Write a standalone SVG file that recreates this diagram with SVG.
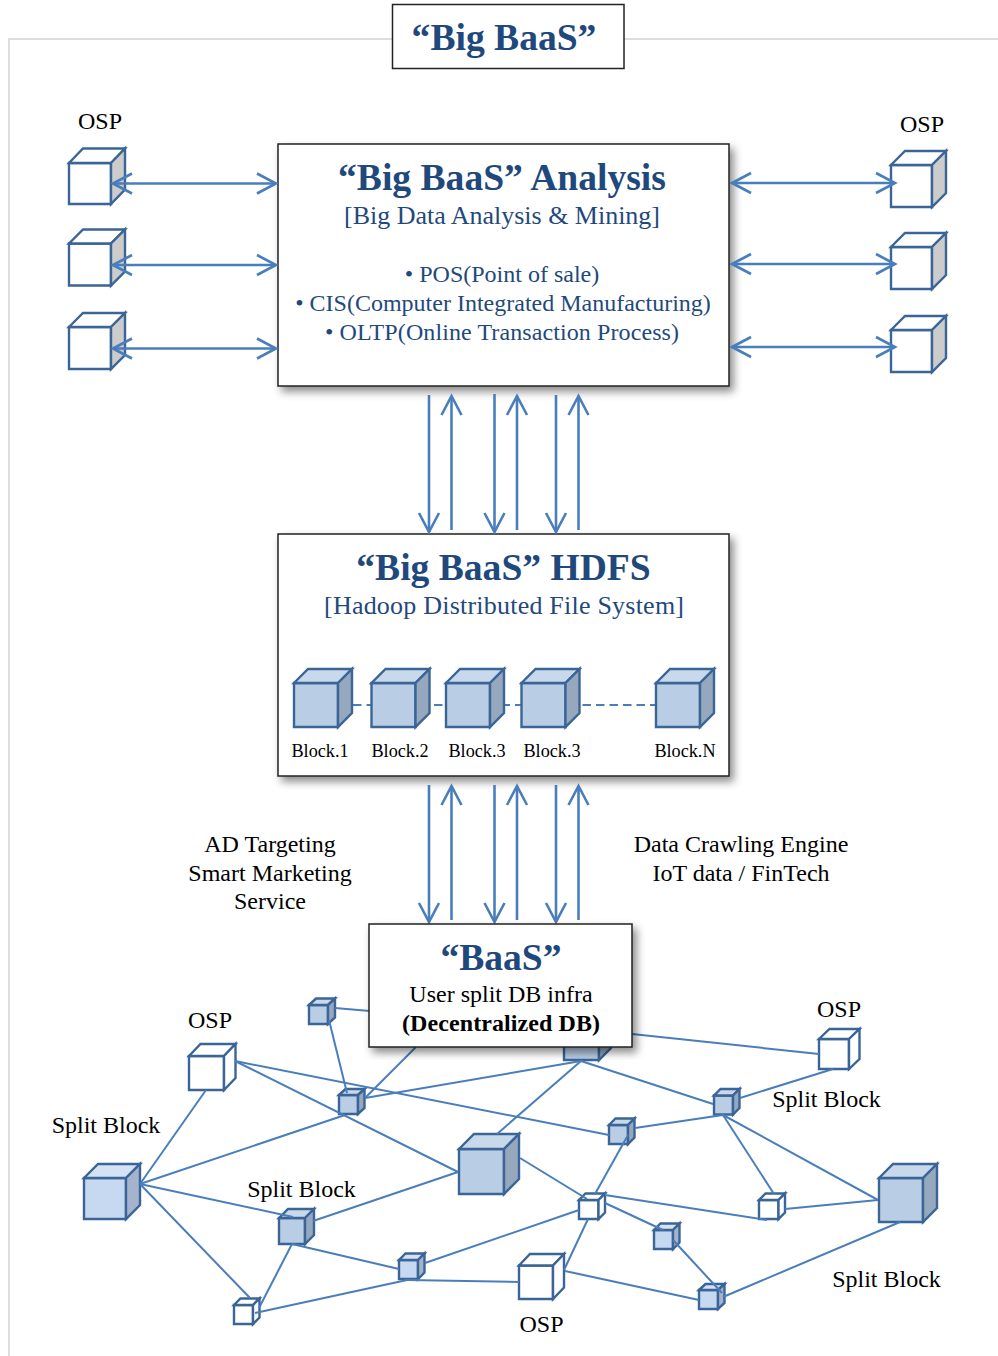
<svg xmlns="http://www.w3.org/2000/svg" width="998" height="1356" viewBox="0 0 998 1356">
<style>
text{font-family:"Liberation Serif","Times New Roman",serif;text-anchor:middle;fill:#000}
.t{font-weight:bold;font-size:37.600px;fill:#1F497D}
.s{font-size:26px;fill:#1F497D}
.b{font-size:24px;fill:#1F497D}
.l{font-size:24px}
.k{font-size:18.200px}
.box{fill:#fff;stroke:#222;stroke-width:1.5}
.cube path{stroke:#3B6596;stroke-width:2.400;stroke-linejoin:miter}
.w .a{fill:#fff}.w .c{fill:#fff}.w .d{fill:#fff}
.g .a{fill:#fff}.g .c{fill:#fff}.g .d{fill:#CCCCCC}
.m .a{fill:#B9CDE5}.m .c{fill:#C8D9EC}.m .d{fill:#95A8BE}
.n .a{fill:#C6D9F1}.n .c{fill:#D3E2F5}.n .d{fill:#A5B4CC}
.net line{stroke:#4A7EBB;stroke-width:2}
.arr line{stroke:#4A7EBB;stroke-width:2.600;fill:none}
.arr .e{marker-end:url(#h)}
.arr .x{marker-start:url(#hs);marker-end:url(#h)}
</style>
<defs>
<marker id="h" markerUnits="userSpaceOnUse" markerWidth="24" markerHeight="26" refX="20" refY="12" orient="auto"><path d="M1 2L20 12L1 22" fill="none" stroke="#4A7EBB" stroke-width="2.600"/></marker>
<marker id="hs" markerUnits="userSpaceOnUse" markerWidth="24" markerHeight="26" refX="2" refY="12" orient="auto"><path d="M21 2L2 12L21 22" fill="none" stroke="#4A7EBB" stroke-width="2.600"/></marker>
<filter id="sh" x="-5%" y="-5%" width="112%" height="115%"><feDropShadow dx="4" dy="5" stdDeviation="4" flood-color="#000" flood-opacity="0.45"/></filter>
</defs>
<g id="frame"><path d="M998 39H9V1356" fill="none" stroke="#D2D2D2" stroke-width="1.5"/></g>
<g id="title-box"><rect class="box" x="392.500" y="4.500" width="231.500" height="64"/><text class="t" x="504" y="50">“Big BaaS”</text></g>

<g id="osp-l1" class="cube g"><path class="a" d="M69 163h42v41h-42z"/><path class="c" d="M69 163l14-14.500h42l-14 14.500z"/><path class="d" d="M111 163l14-14.500v41l-14 14.500z"/></g>
<g id="osp-l2" class="cube g"><path class="a" d="M69 243.500h42v42h-42z"/><path class="c" d="M69 243.500l14-14h42l-14 14z"/><path class="d" d="M111 243.500l14-14v42l-14 14z"/></g>
<g id="osp-l3" class="cube g"><path class="a" d="M69 327h42v42h-42z"/><path class="c" d="M69 327l14-14h42l-14 14z"/><path class="d" d="M111 327l14-14v42l-14 14z"/></g>
<g id="osp-r1" class="cube g"><path class="a" d="M891 165h41v42h-41z"/><path class="c" d="M891 165l14-14h41l-14 14z"/><path class="d" d="M932 165l14-14v42l-14 14z"/></g>
<g id="osp-r2" class="cube g"><path class="a" d="M891 247h41v42h-41z"/><path class="c" d="M891 247l14-14h41l-14 14z"/><path class="d" d="M932 247l14-14v42l-14 14z"/></g>
<g id="osp-r3" class="cube g"><path class="a" d="M891 330h41v42h-41z"/><path class="c" d="M891 330l14-14h41l-14 14z"/><path class="d" d="M932 330l14-14v42l-14 14z"/></g>

<g id="analysis"><rect class="box" filter="url(#sh)" x="278" y="144" width="451" height="242"/>
<text class="t" x="502" y="190">“Big BaaS” Analysis</text>
<text class="s" x="502" y="224" textLength="316">[Big Data Analysis &amp; Mining]</text>
<text class="b" x="502" y="282">• POS(Point of sale)</text>
<text class="b" x="503" y="311">• CIS(Computer Integrated Manufacturing)</text>
<text class="b" x="502" y="340" textLength="354">• OLTP(Online Transaction Process)</text></g>

<g id="hdfs"><rect class="box" filter="url(#sh)" x="278" y="534" width="451" height="242"/>
<text class="t" x="503.500" y="580">“Big BaaS” HDFS</text>
<text class="s" x="504" y="614" textLength="360">[Hadoop Distributed File System]</text>
<path d="M353 705H656" stroke="#4A7EBB" stroke-width="2" stroke-dasharray="8.500 5" fill="none"/>
<g id="block1" class="cube m"><path class="a" d="M294 683h44v44h-44z"/><path class="c" d="M294 683l14-14h44l-14 14z"/><path class="d" d="M338 683l14-14v44l-14 14z"/><text class="k" x="320" y="757">Block.1</text></g>
<g id="block2" class="cube m"><path class="a" d="M371.500 683h44v44h-44z"/><path class="c" d="M371.500 683l14-14h44l-14 14z"/><path class="d" d="M415.500 683l14-14v44l-14 14z"/><text class="k" x="400" y="757">Block.2</text></g>
<g id="block3" class="cube m"><path class="a" d="M446 683h44v44h-44z"/><path class="c" d="M446 683l14-14h44l-14 14z"/><path class="d" d="M490 683l14-14v44l-14 14z"/><text class="k" x="477" y="757">Block.3</text></g>
<g id="block4" class="cube m"><path class="a" d="M521.500 683h44v44h-44z"/><path class="c" d="M521.500 683l14-14h44l-14 14z"/><path class="d" d="M565.500 683l14-14v44l-14 14z"/><text class="k" x="552" y="757">Block.3</text></g>
<g id="blockN" class="cube m"><path class="a" d="M656 683h44v44h-44z"/><path class="c" d="M656 683l14-14h44l-14 14z"/><path class="d" d="M700 683l14-14v44l-14 14z"/><text class="k" x="685" y="757">Block.N</text></g>
</g>

<g id="label-ad"><text class="l" x="270" y="852">AD Targeting</text><text class="l" x="270" y="881">Smart Marketing</text><text class="l" x="270" y="909">Service</text></g>
<g id="label-crawl"><text class="l" x="741" y="852">Data Crawling Engine</text><text class="l" x="741" y="881">IoT data / FinTech</text></g>

<g id="n-top" class="cube m"><path class="a" d="M309 1005h19v19h-19z"/><path class="c" d="M309 1005l7-6.500h19l-7 6.500z"/><path class="d" d="M328 1005l7-6.500v19l-7 6.500z"/></g>
<g id="n-a" class="cube m"><path class="a" d="M339 1095h19v19h-19z"/><path class="c" d="M339 1095l6.500-6h19l-6.500 6z"/><path class="d" d="M358 1095l6.500-6v19l-6.500 6z"/></g>
<g id="n-hidden" class="cube m"><path class="a" d="M564 1025h35v35h-35z"/><path class="c" d="M564 1025l12-12h35l-12 12z"/><path class="d" d="M599 1025l12-12v35l-12 12z"/></g>
<g id="n-osp1" class="cube w"><path class="a" d="M189 1056h35v34h-35z"/><path class="c" d="M189 1056l11.500-12h35l-11.500 12z"/><path class="d" d="M224 1056l11.500-12v34l-11.500 12z"/></g>
<g id="n-big1" class="cube n"><path class="a" d="M84 1178h42v41h-42z"/><path class="c" d="M84 1178l14-14h42l-14 14z"/><path class="d" d="M126 1178l14-14v41l-14 14z"/></g>
<g id="n-mid" class="cube m"><path class="a" d="M459 1149h45v45h-45z"/><path class="c" d="M459 1149l15-15h45l-15 15z"/><path class="d" d="M504 1149l15-15v45l-15 15z"/></g>
<g id="n-split" class="cube m"><path class="a" d="M279 1218h26v26h-26z"/><path class="c" d="M279 1218l9-9h26l-9 9z"/><path class="d" d="M305 1218l9-9v26l-9 9z"/></g>
<g id="n-b" class="cube n"><path class="a" d="M399 1260h19v19h-19z"/><path class="c" d="M399 1260l6.500-6.500h19l-6.500 6.500z"/><path class="d" d="M418 1260l6.500-6.500v19l-6.500 6.500z"/></g>
<g id="n-w1" class="cube w"><path class="a" d="M234 1305h19v19h-19z"/><path class="c" d="M234 1305l6.500-6.500h19l-6.500 6.500z"/><path class="d" d="M253 1305l6.500-6.500v19l-6.500 6.500z"/></g>
<g id="n-osp2" class="cube w"><path class="a" d="M819 1039h30v30h-30z"/><path class="c" d="M819 1039l10.500-10h30l-10.500 10z"/><path class="d" d="M849 1039l10.500-10v30l-10.500 10z"/></g>
<g id="n-c" class="cube m"><path class="a" d="M714 1095.500h19v19h-19z"/><path class="c" d="M714 1095.500l6.500-6.500h19l-6.500 6.500z"/><path class="d" d="M733 1095.500l6.500-6.500v19l-6.500 6.500z"/></g>
<g id="n-d" class="cube m"><path class="a" d="M609 1125h19v19h-19z"/><path class="c" d="M609 1125l6.500-6.500h19l-6.500 6.500z"/><path class="d" d="M628 1125l6.500-6.500v19l-6.500 6.500z"/></g>
<g id="n-w2" class="cube w"><path class="a" d="M579 1200h19.500v19h-19.500z"/><path class="c" d="M579 1200l6.500-6.500h19.500l-6.500 6.500z"/><path class="d" d="M598.500 1200l6.500-6.500v19l-6.500 6.500z"/></g>
<g id="n-w3" class="cube w"><path class="a" d="M759 1200h19.500v19h-19.500z"/><path class="c" d="M759 1200l6.500-6.500h19.500l-6.500 6.500z"/><path class="d" d="M778.500 1200l6.500-6.500v19l-6.500 6.500z"/></g>
<g id="n-big2" class="cube m"><path class="a" d="M879 1178h44v44h-44z"/><path class="c" d="M879 1178l14-14h44l-14 14z"/><path class="d" d="M923 1178l14-14v44l-14 14z"/></g>
<g id="n-e" class="cube n"><path class="a" d="M654 1230h19v19h-19z"/><path class="c" d="M654 1230l6.500-6.500h19l-6.500 6.500z"/><path class="d" d="M673 1230l6.500-6.500v19l-6.500 6.500z"/></g>
<g id="n-f" class="cube n"><path class="a" d="M699 1290h19v19h-19z"/><path class="c" d="M699 1290l6.500-6h19l-6.500 6z"/><path class="d" d="M718 1290l6.500-6v19l-6.500 6z"/></g>
<g id="n-osp3" class="cube w"><path class="a" d="M519 1265.500h34v33.500h-34z"/><path class="c" d="M519 1265.500l11-11.500h34l-11 11.500z"/><path class="d" d="M553 1265.500l11-11.500v33.500l-11 11.500z"/></g>

<g id="connectors">
<g class="arr">
<line class="x" x1="113" y1="183.500" x2="276" y2="183.500"/>
<line class="x" x1="113" y1="265" x2="276" y2="265"/>
<line class="x" x1="113" y1="348.500" x2="276" y2="348.500"/>
<line class="x" x1="732" y1="183" x2="895" y2="183"/>
<line class="x" x1="732" y1="264" x2="895" y2="264"/>
<line class="x" x1="732" y1="347" x2="895" y2="347"/>
<line class="e" x1="429" y1="395" x2="429" y2="532"/>
<line class="e" x1="451.500" y1="530" x2="451.500" y2="396"/>
<line class="e" x1="494.500" y1="394" x2="494.500" y2="532"/>
<line class="e" x1="517" y1="530" x2="517" y2="396"/>
<line class="e" x1="556" y1="395" x2="556" y2="532"/>
<line class="e" x1="578.500" y1="530" x2="578.500" y2="396"/>
<line class="e" x1="429" y1="785" x2="429" y2="922"/>
<line class="e" x1="451.500" y1="920" x2="451.500" y2="786"/>
<line class="e" x1="494.500" y1="785" x2="494.500" y2="922"/>
<line class="e" x1="517" y1="920" x2="517" y2="786"/>
<line class="e" x1="556" y1="785" x2="556" y2="922"/>
<line class="e" x1="578.500" y1="920" x2="578.500" y2="786"/>
</g>
<g class="net">
<line x1="335" y1="1008" x2="370" y2="1011"/>
<line x1="329" y1="1020" x2="347" y2="1093"/>
<line x1="416" y1="1047" x2="365" y2="1098"/>
<line x1="365" y1="1098" x2="581" y2="1061"/>
<line x1="235" y1="1061" x2="609" y2="1135"/>
<line x1="235" y1="1061" x2="458" y2="1172"/>
<line x1="206" y1="1090" x2="140" y2="1184"/>
<line x1="140" y1="1184" x2="345" y2="1115"/>
<line x1="140" y1="1184" x2="293" y2="1217"/>
<line x1="140" y1="1184" x2="250" y2="1298"/>
<line x1="313" y1="1221" x2="458" y2="1172"/>
<line x1="292" y1="1244" x2="399" y2="1269"/>
<line x1="292" y1="1244" x2="259" y2="1308"/>
<line x1="255" y1="1313" x2="407" y2="1280"/>
<line x1="407" y1="1280" x2="519" y2="1282"/>
<line x1="425" y1="1263" x2="579" y2="1210"/>
<line x1="497" y1="1134" x2="581" y2="1061"/>
<line x1="581" y1="1061" x2="713" y2="1104"/>
<line x1="632" y1="1034" x2="819" y2="1054"/>
<line x1="833" y1="1069" x2="740" y2="1098"/>
<line x1="723" y1="1115" x2="635" y2="1128"/>
<line x1="723" y1="1115" x2="774" y2="1194"/>
<line x1="723" y1="1115" x2="878" y2="1200"/>
<line x1="628" y1="1135" x2="595" y2="1194"/>
<line x1="520" y1="1158" x2="587" y2="1199"/>
<line x1="605" y1="1195" x2="767" y2="1220"/>
<line x1="785" y1="1209" x2="878" y2="1200"/>
<line x1="605" y1="1203" x2="663" y2="1230"/>
<line x1="673" y1="1240" x2="722" y2="1293"/>
<line x1="588" y1="1219" x2="564" y2="1270"/>
<line x1="565" y1="1271" x2="699" y2="1300"/>
<line x1="723" y1="1297" x2="900" y2="1222"/>
</g>
</g>

<g id="baas"><rect class="box" filter="url(#sh)" x="369" y="924" width="263" height="123"/>
<text class="t" x="501" y="970">“BaaS”</text>
<text class="l" x="501" y="1002">User split DB infra</text>
<text class="l" x="501" y="1031" font-weight="bold" textLength="198">(Decentralized DB)</text></g>

<g id="labels">
<text class="l" x="100" y="129">OSP</text>
<text class="l" x="922" y="132">OSP</text>
<text class="l" x="210" y="1028">OSP</text>
<text class="l" x="839" y="1017">OSP</text>
<text class="l" x="541.500" y="1332">OSP</text>
<text class="l" x="106" y="1133">Split Block</text>
<text class="l" x="301.500" y="1197">Split Block</text>
<text class="l" x="826.500" y="1107">Split Block</text>
<text class="l" x="886.500" y="1287">Split Block</text>
</g>
</svg>
